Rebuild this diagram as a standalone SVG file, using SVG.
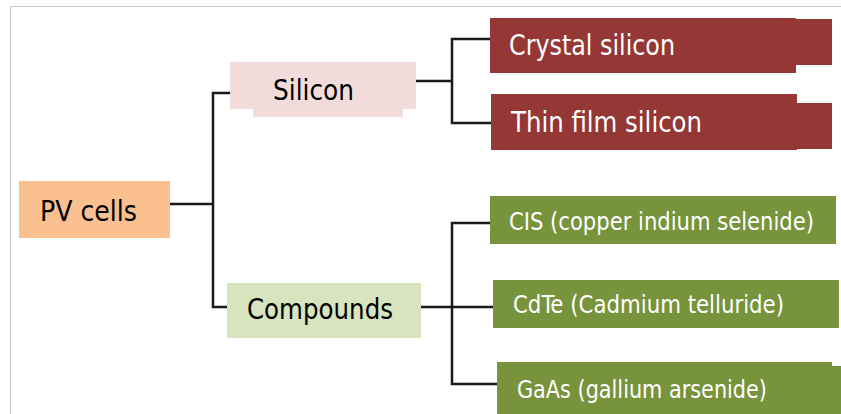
<svg xmlns="http://www.w3.org/2000/svg" width="841" height="414" viewBox="0 0 841 414">
  <style>
    text { font-family: "DejaVu Sans Condensed", "DejaVu Sans", sans-serif; font-stretch: condensed; }
    .big { font-size: 29px; }
    .small { font-size: 24px; }
    .dark { fill: #000000; }
    .light { fill: #ffffff; }
    .pv { fill: #FAC090; }
    .si { fill: #F2DCDB; }
    .cmp { fill: #D7E4BD; }
    .red { fill: #953735; }
    .green { fill: #77933C; }
    .wire { fill: none; stroke: #1a1a1a; stroke-width: 2.5; }
    .frame { fill: none; stroke: #c8c8c8; stroke-width: 1; }
  </style>

  <rect width="841" height="414" fill="#ffffff"/>
  <path class="frame" d="M10.5,414 V6.5 H841"/>

  <g id="connectors">
    <path class="wire" d="M170,204 H213"/>
    <path class="wire" d="M230,93 H213 V307 H227"/>
    <path class="wire" d="M416,81 H452"/>
    <path class="wire" d="M490,39 H452 V123 H491"/>
    <path class="wire" d="M421,307 H493"/>
    <path class="wire" d="M490,223 H452 V384 H497"/>
  </g>

  <g id="pv-cells">
    <rect class="pv" x="19" y="181" width="151" height="57"/>
    <text class="big dark" x="40" y="221" textLength="97" lengthAdjust="spacingAndGlyphs">PV cells</text>
  </g>

  <g id="silicon">
    <rect class="si" x="230" y="62" width="186" height="47"/>
    <rect class="si" x="253" y="62" width="150" height="55"/>
    <text class="big dark" x="273" y="100" textLength="81" lengthAdjust="spacingAndGlyphs">Silicon</text>
  </g>

  <g id="compounds">
    <rect class="cmp" x="227" y="283" width="194" height="55"/>
    <text class="big dark" x="247" y="319" textLength="146" lengthAdjust="spacingAndGlyphs">Compounds</text>
  </g>

  <g id="crystal-silicon">
    <rect class="red" x="490" y="18" width="306" height="55"/>
    <rect class="red" x="796" y="19" width="36" height="46"/>
    <text class="big light" x="509" y="55" textLength="166" lengthAdjust="spacingAndGlyphs">Crystal silicon</text>
  </g>

  <g id="thin-film-silicon">
    <rect class="red" x="491" y="94" width="306" height="56"/>
    <rect class="red" x="797" y="103" width="35" height="46"/>
    <text class="big light" x="511" y="132" textLength="191" lengthAdjust="spacingAndGlyphs">Thin film silicon</text>
  </g>

  <g id="cis">
    <rect class="green" x="490" y="196" width="346" height="48"/>
    <text class="small light" x="509" y="230" textLength="305" lengthAdjust="spacingAndGlyphs">CIS (copper indium selenide)</text>
  </g>

  <g id="cdte">
    <rect class="green" x="493" y="280" width="346" height="48"/>
    <text class="small light" x="513" y="313" textLength="271" lengthAdjust="spacingAndGlyphs">CdTe (Cadmium telluride)</text>
  </g>

  <g id="gaas">
    <rect class="green" x="497" y="362" width="335" height="52"/>
    <rect class="green" x="832" y="366" width="9" height="48"/>
    <text class="small light" x="517" y="398" textLength="250" lengthAdjust="spacingAndGlyphs">GaAs (gallium arsenide)</text>
  </g>
</svg>
